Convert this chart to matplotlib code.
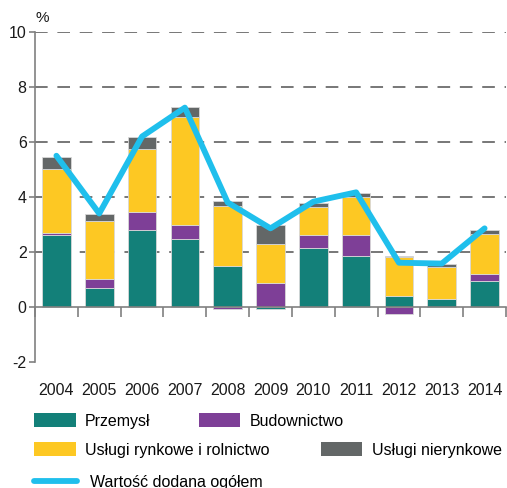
import numpy as np
import matplotlib.pyplot as plt
from matplotlib.patches import Patch
from matplotlib.lines import Line2D

plt.rcParams['font.family'] = ['Liberation Sans', 'DejaVu Sans']

lata = ['2004', '2005', '2006', '2007', '2008', '2009', '2010', '2011', '2012', '2013', '2014']
przemysl = [2.62, 0.68, 2.79, 2.46, 1.48, -0.08, 2.13, 1.84, 0.41, 0.28, 0.93]
budownictwo = [0.07, 0.33, 0.68, 0.52, -0.07, 0.88, 0.49, 0.78, -0.25, 0.0, 0.27]
uslugi_rynk = [2.33, 2.12, 2.28, 3.92, 2.19, 1.40, 1.03, 1.39, 1.40, 1.19, 1.45]
uslugi_nierynk = [0.45, 0.27, 0.43, 0.37, 0.17, 0.70, 0.15, 0.12, 0.03, 0.08, 0.15]
ogolem = [5.5, 3.4, 6.2, 7.25, 3.8, 2.86, 3.83, 4.17, 1.61, 1.58, 2.86]

nazwy = ['Przemysł', 'Budownictwo', 'Usługi rynkowe i rolnictwo', 'Usługi nierynkowe']
kolory = ['#138079', '#7e3f97', '#fdc823', '#636767']
niebieski = '#1fbfec'

fig = plt.figure(figsize=(5.07, 4.88), dpi=100)
ax = fig.add_axes([35/507, 1-362/488, (506-35)/507, 330/488])

x = np.arange(len(lata))
pos = np.zeros(len(lata))
neg = np.zeros(len(lata))
for seria, kol in zip([przemysl, budownictwo, uslugi_rynk, uslugi_nierynk], kolory):
    v = np.array(seria)
    dol = np.where(v >= 0, pos, neg)
    ax.bar(x, v, 0.67, bottom=dol, color=kol, edgecolor='#d8d8d8', linewidth=0.6, zorder=2)
    pos = pos + np.where(v > 0, v, 0)
    neg = neg + np.where(v < 0, v, 0)

ax.plot(x, ogolem, color=niebieski, lw=4.2, zorder=3, solid_capstyle='round')

ax.set_xlim(-0.5, 10.5)
ax.set_ylim(-2, 10)
ax.set_yticks([-2, 0, 2, 4, 6, 8, 10])
ax.set_yticklabels(['-2', '0', '2', '4', '6', '8', '10'], fontsize=11.5)
for yy in [2, 4, 6, 8, 10]:
    ax.axhline(yy, color='#777777', lw=1.4, dashes=(6.5, 5), zorder=1)

for s in ['top', 'right']:
    ax.spines[s].set_visible(False)
ax.spines['left'].set_color('#808080')
ax.spines['left'].set_linewidth(1.2)
ax.spines['bottom'].set_position(('data', 0))
ax.spines['bottom'].set_color('#808080')
ax.spines['bottom'].set_linewidth(1.2)
ax.tick_params(axis='y', length=4, width=1.2, color='#808080', pad=2, labelcolor='#1a1a1a')

ax.set_xticks(x)
ax.set_xticklabels(lata, fontsize=11.5, color='#1a1a1a')
ax.set_xticks(np.arange(-0.5, 11, 1), minor=True)
ax.tick_params(axis='x', which='major', length=0, pad=55)
ax.tick_params(axis='x', which='minor', length=7, width=1.2, color='#808080', direction='out')

fig.text(36/507, 1-18/488, '%', fontsize=11, color='#1a1a1a', ha='left', va='center')

h = [Patch(facecolor=k, edgecolor='none') for k in kolory]
wiersze = [([h[0], h[1]], nazwy[:2], 421, 3.0),
           ([h[2], h[3]], nazwy[2:], 450, 3.2)]
for hh, ll, yy, cs in wiersze:
    fig.legend(hh, ll, loc='center left', bbox_to_anchor=(34/507, 1-yy/488), ncol=2,
               frameon=False, fontsize=11.5, handlelength=2.6, handleheight=1.0,
               handletextpad=0.6, columnspacing=cs, borderpad=0, borderaxespad=0)
fig.legend([Line2D([], [], color=niebieski, lw=4.2, solid_capstyle='round')],
           ['Wartość dodana ogółem'], loc='center left', bbox_to_anchor=(34/507, 1-482/488),
           frameon=False, fontsize=11.5, handlelength=2.7, handletextpad=0.8,
           borderpad=0, borderaxespad=0)

fig.savefig('out.png', dpi=100)
